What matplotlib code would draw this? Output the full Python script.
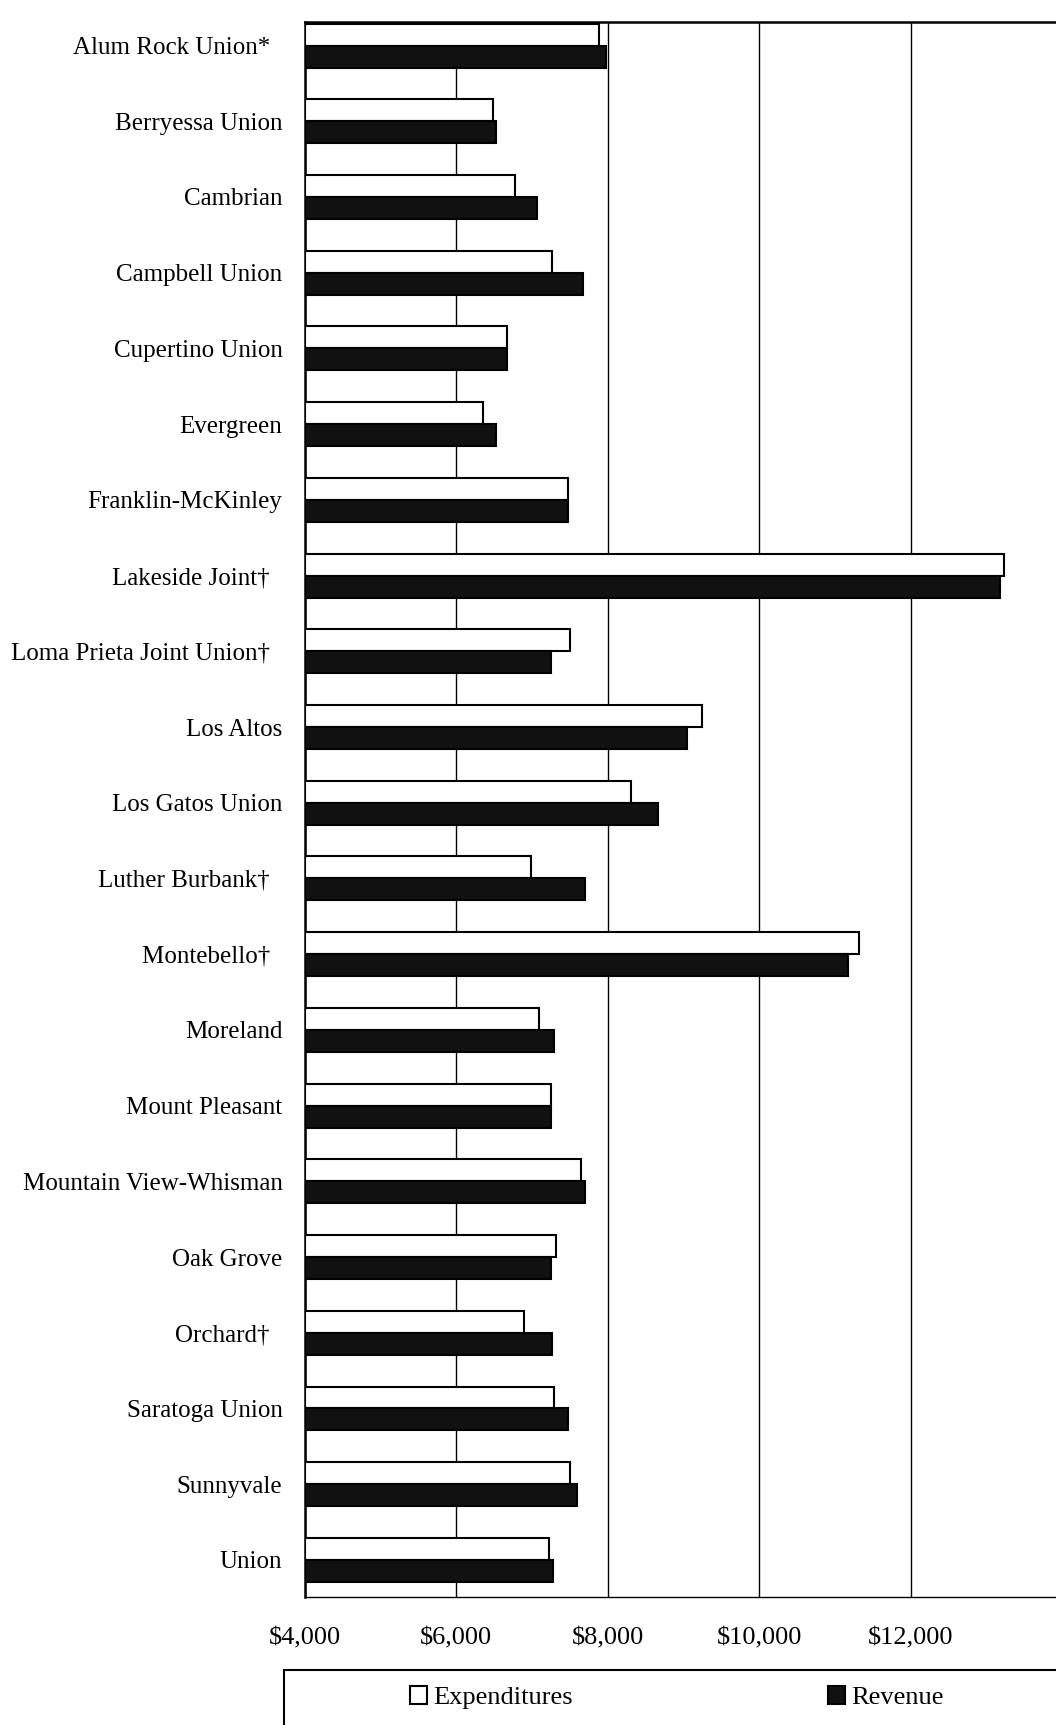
import numpy as np
import matplotlib.pyplot as plt
from matplotlib.patches import Patch, Rectangle

districts = ["Alum Rock Union*", "Berryessa Union", "Cambrian", "Campbell Union",
             "Cupertino Union", "Evergreen", "Franklin-McKinley", "Lakeside Joint\u2020",
             "Loma Prieta Joint Union\u2020", "Los Altos", "Los Gatos Union",
             "Luther Burbank\u2020", "Montebello\u2020", "Moreland", "Mount Pleasant",
             "Mountain View-Whisman", "Oak Grove", "Orchard\u2020", "Saratoga Union",
             "Sunnyvale", "Union"]
expenditures = [7880, 6480, 6770, 7265, 6670, 6350, 7470, 13230, 7500, 9240, 8310,
                6990, 11315, 7090, 7250, 7640, 7310, 6890, 7295, 7500, 7220]
revenue = [7980, 6525, 7060, 7670, 6670, 6525, 7470, 13170, 7250, 9050, 8660,
           7700, 11170, 7295, 7250, 7700, 7250, 7265, 7480, 7600, 7280]
xticks = [4000, 6000, 8000, 10000, 12000]
xtick_labels = ["$4,000", "$6,000", "$8,000", "$10,000", "$12,000"]

plt.rcParams['font.family'] = ['Liberation Serif', 'DejaVu Serif']

fig = plt.figure(figsize=(10.56, 17.25), dpi=100)
ax = fig.add_axes([0.2885, 0.0742, 0.7177, 0.913])

y = np.arange(len(districts))
h = 0.29
base = 4000
ax.barh(y - h / 2, np.array(expenditures) - base, h, left=base,
        color='white', edgecolor='black', linewidth=1.5, zorder=3)
ax.barh(y + h / 2, np.array(revenue) - base, h, left=base,
        color='#111111', edgecolor='black', linewidth=1.5, zorder=3)

# footnote marks hang a little past the other labels
labels = [d + "\u00a0\u00a0" if d[-1] in "*\u2020" else d for d in districts]

ax.set_xlim(4000, 14000)
ax.set_ylim(len(districts) - 0.51, -0.31)
ax.set_yticks(y)
ax.set_yticklabels(labels, fontsize=18)
ax.set_xticks(xticks)
ax.set_xticklabels(xtick_labels, fontsize=19)
ax.tick_params(axis='y', length=0, pad=16)
ax.tick_params(axis='x', length=0, pad=22)
ax.grid(axis='x', color='black', linewidth=1.0, zorder=0)
for side in ['left', 'top']:
    ax.spines[side].set_linewidth(1.8)
ax.spines['bottom'].set_linewidth(1.0)
ax.spines['right'].set_visible(False)

# legend box runs off the bottom-right of the page
fig.add_artist(Rectangle((258 / 960, -0.01), 0.75, 0.01 + 1 - 1518 / 1568,
                         transform=fig.transFigure, fill=False,
                         edgecolor='black', linewidth=1.5))
handles = [Patch(facecolor='white', edgecolor='black', linewidth=1.5),
           Patch(facecolor='#111111', edgecolor='black', linewidth=1.5)]
fig.legend(handles, ["Expenditures", "Revenue"], ncol=2,
           loc='center left', bbox_to_anchor=(373 / 960, 1 - 1543 / 1568),
           fontsize=19, frameon=False, handlelength=0.65, handleheight=0.65,
           handletextpad=0.2, borderaxespad=0, borderpad=0, columnspacing=9.7)

fig.savefig("out.png", dpi=100)
